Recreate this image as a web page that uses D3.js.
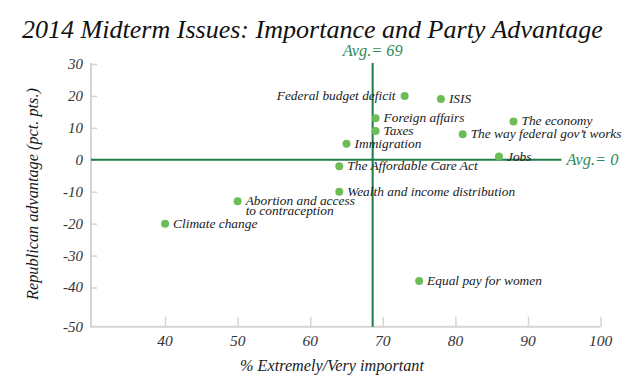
<!DOCTYPE html>
<html><head><meta charset="utf-8">
<script src="https://cdn.jsdelivr.net/npm/d3@7/dist/d3.min.js"></script>
<style>
body{margin:0;background:#fff}
svg{display:block}
text{font-family:"Liberation Serif","Times New Roman",serif;font-style:italic}
</style>
</head><body>
<svg id="chart" width="628" height="380"></svg>
<script>
// ---- data ----
const issues = [
  "Federal budget deficit","ISIS","Foreign affairs","Taxes","The economy",
  "The way federal gov’t works","Immigration","Jobs","The Affordable Care Act",
  "Wealth and income distribution","Abortion and access\nto contraception",
  "Climate change","Equal pay for women"
];
const importance = [73, 78, 69, 69, 88, 81, 65, 86, 64, 64, 50, 40, 75];
const advantage  = [20, 19, 13, 9, 12, 8, 5, 1, -2, -10, -13, -20, -38];
const xTicks = [40, 50, 60, 70, 80, 90, 100];
const yTicks = [30, 20, 10, 0, -10, -20, -30, -40, -50];
const avgImportance = 68.6;
const avgAdvantage = 0;
const title = "2014 Midterm Issues: Importance and Party Advantage";
const xTitle = "% Extremely/Very important";
const yTitle = "Republican advantage (pct. pts.)";

// ---- layout ----
const svg = d3.select("#chart");
const x = d3.scaleLinear().domain([29.8, 100]).range([91, 600.6]);
const y = d3.scaleLinear().domain([-50, -40, 30]).range([326.7, 287.5, 64]);

const axisGrey = "#d5d5d5", lineGreen = "#1f7b47", dotGreen = "#6cbd58", labelGreen = "#2f8a5a", ink = "#1a1a1a";

function fit(sel, width, base) {
  sel.style("font-size", base + "px");
  const w = sel.node().getComputedTextLength();
  const s = base * width / w;
  sel.style("font-size", s + "px");
  return s;
}

// title (fit to width)
const t = svg.append("text").attr("x", 22).attr("y", 38).attr("fill", "#111").text(title);
fit(t, 581, 24);

// label font size from reference label widths
const probe = svg.append("text").text("Wealth and income distribution");
const s1 = fit(probe, 177, 13);
probe.text("The way federal gov’t works");
const s2 = fit(probe, 151, 13);
probe.remove();
const labelSize = Math.min(s1, s2);

// y axis
const yAxis = d3.axisRight(y).tickValues(yTicks.filter(v => v > -50)).tickSize(6).tickFormat("");
const gy = svg.append("g").attr("transform", `translate(${x.range()[0]},0)`).call(yAxis);
gy.select(".domain").remove();
gy.selectAll(".tick line").attr("stroke", axisGrey).attr("stroke-width", 1.5);
svg.append("line").attr("x1", x.range()[0]).attr("x2", x.range()[0])
  .attr("y1", y(30) - 1).attr("y2", y(-50)).attr("stroke", axisGrey).attr("stroke-width", 2);
svg.selectAll(".ylab").data(yTicks).join("text").attr("class", "ylab")
  .attr("x", 83).attr("y", d => y(d)).attr("dy", "0.33em").attr("text-anchor", "end")
  .attr("fill", "#333").style("font-size", "15px").text(d => d);

// x axis
const xAxis = d3.axisTop(x).tickValues(xTicks).tickSize(10).tickFormat("");
const gx = svg.append("g").attr("transform", `translate(0,${y(-50)})`).call(xAxis);
gx.select(".domain").remove();
gx.selectAll(".tick line").attr("stroke", axisGrey).attr("stroke-width", 1.5);
svg.append("line").attr("x1", x.range()[0] - 1).attr("x2", x.range()[1])
  .attr("y1", y(-50)).attr("y2", y(-50)).attr("stroke", axisGrey).attr("stroke-width", 2);
svg.selectAll(".xlab").data(xTicks).join("text").attr("class", "xlab")
  .attr("x", d => x(d)).attr("y", y(-50) + 19).attr("text-anchor", "middle")
  .attr("fill", "#333").style("font-size", "15.5px").text(d => d);

// axis titles
const xt = svg.append("text").attr("x", 332).attr("y", 371).attr("text-anchor", "middle")
  .attr("fill", ink).text(xTitle);
fit(xt, 184, 14);
const yt = svg.append("text").attr("transform", "translate(38,194) rotate(-90)").attr("text-anchor", "middle")
  .attr("fill", ink).text(yTitle);
fit(yt, 212, 14);

// average lines
svg.append("line").attr("x1", x(avgImportance)).attr("x2", x(avgImportance))
  .attr("y1", y(30) - 1).attr("y2", y(-50)).attr("stroke", lineGreen).attr("stroke-width", 2);
svg.append("line").attr("x1", x.range()[0]).attr("x2", x(94.6))
  .attr("y1", y(avgAdvantage)).attr("y2", y(avgAdvantage)).attr("stroke", lineGreen).attr("stroke-width", 2);
const a1 = svg.append("text").attr("x", x(avgImportance)).attr("y", 56).attr("text-anchor", "middle")
  .attr("fill", labelGreen).text(`Avg.= ${Math.round(avgImportance)}`);
fit(a1, 60, 14);
const a2 = svg.append("text").attr("x", x(94.6) + 5).attr("y", y(avgAdvantage)).attr("dy", "0.33em")
  .attr("fill", labelGreen).text(`Avg.= ${avgAdvantage}`);
fit(a2, 52, 14);

// points
const data = issues.map((name, i) => ({name, imp: importance[i], adv: advantage[i]}));
const leftLabels = new Set(["Federal budget deficit"]);
svg.selectAll(".dot").data(data).join("circle").attr("class", "dot")
  .attr("cx", d => x(d.imp)).attr("cy", d => y(d.adv)).attr("r", 4).attr("fill", dotGreen);
const labels = svg.selectAll(".lbl").data(data).join("text").attr("class", "lbl")
  .attr("x", d => x(d.imp) + (leftLabels.has(d.name) ? -9 : 8))
  .attr("y", d => y(d.adv))
  .attr("text-anchor", d => leftLabels.has(d.name) ? "end" : "start")
  .attr("fill", ink).style("font-size", labelSize + "px");
labels.each(function(d) {
  const lines = d.name.split("\n");
  const el = d3.select(this);
  lines.forEach((ln, k) => {
    el.append("tspan").attr("x", el.attr("x")).attr("dy", k === 0 ? "0.3em" : "0.72em").text(ln);
  });
});
</script>
</body></html>
